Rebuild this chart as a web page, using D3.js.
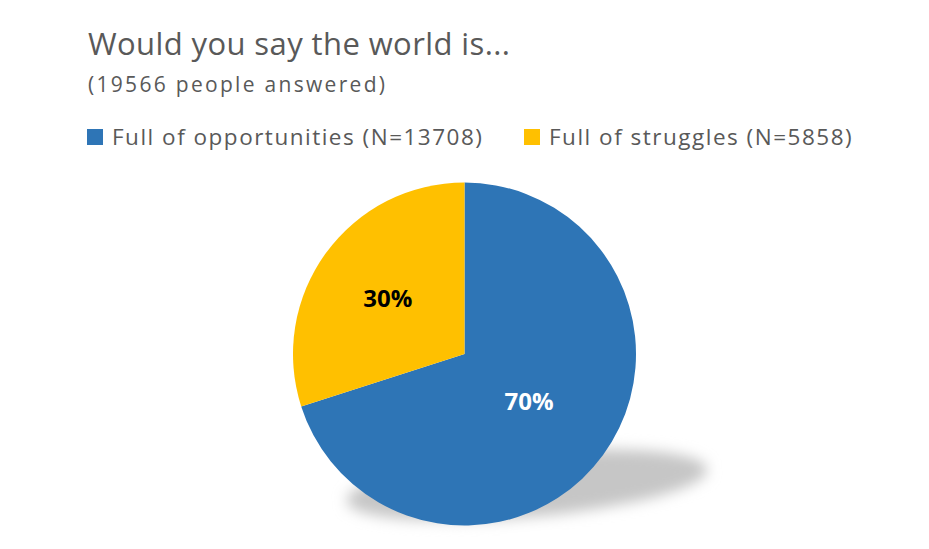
<!DOCTYPE html>
<html>
<head>
<meta charset="utf-8">
<script src="https://cdn.jsdelivr.net/npm/d3@7"></script>
<style>
  body { margin: 0; background: #fff; }
  text { font-family: "Open Sans", Lato, sans-serif; }
</style>
</head>
<body>
<svg id="chart" width="929" height="549"></svg>
<script>
// chart data
const categories = ["Full of opportunities", "Full of struggles"];
const counts = [13708, 5858];
const colors = ["#2e75b6", "#ffc000"];
const titleText = "Would you say the world is...";
const subtitleText = "(19566 people answered)";

const svg = d3.select("#chart");
const total = d3.sum(counts);

// title
svg.append("text")
  .attr("x", 88).attr("y", 55)
  .attr("fill", "#595959")
  .style("font-size", "31px")
  .style("letter-spacing", "0.4px")
  .text(titleText);

svg.append("text")
  .attr("x", 88).attr("y", 92)
  .attr("fill", "#595959")
  .style("font-size", "21px")
  .style("letter-spacing", "2.3px")
  .text(subtitleText);

// legend
const legendX = [87, 524];
const legend = svg.selectAll(".legend")
  .data(categories)
  .enter().append("g")
  .attr("class", "legend")
  .attr("transform", (d, i) => `translate(${legendX[i]}, 129)`);

legend.append("rect")
  .attr("width", 16).attr("height", 16)
  .attr("fill", (d, i) => colors[i]);

legend.append("text")
  .attr("x", 25).attr("y", 16)
  .attr("fill", "#595959")
  .style("font-size", "22.5px")
  .style("letter-spacing", "1.5px")
  .text((d, i) => `${d} (N=${counts[i]})`);

// pie
const cx = 464.5, cy = 354, radius = 171.5;

const defs = svg.append("defs");
defs.append("filter")
  .attr("id", "blur")
  .attr("x", "-20%").attr("y", "-60%")
  .attr("width", "140%").attr("height", "220%")
  .append("feGaussianBlur")
  .attr("stdDeviation", 7);

// perspective shadow
svg.append("ellipse")
  .attr("cx", 527).attr("cy", 485)
  .attr("rx", 181).attr("ry", 32)
  .attr("transform", "rotate(-5, 527, 485)")
  .attr("fill", "#c6c6c6")
  .attr("filter", "url(#blur)");

const pie = d3.pie().sort(null).value(d => d);
const arc = d3.arc().innerRadius(0).outerRadius(radius);

const g = svg.append("g").attr("transform", `translate(${cx}, ${cy})`);
const slices = pie(counts);

g.selectAll("path")
  .data(slices)
  .enter().append("path")
  .attr("d", arc)
  .attr("fill", (d, i) => colors[i]);

// percentage labels
const labelR = [80, 95];
const labelColor = ["#ffffff", "#000000"];
g.selectAll(".label")
  .data(slices)
  .enter().append("text")
  .attr("class", "label")
  .attr("transform", (d, i) => {
    const c = d3.arc().innerRadius(labelR[i]).outerRadius(labelR[i]).centroid(d);
    return `translate(${c[0]}, ${c[1]})`;
  })
  .attr("text-anchor", "middle")
  .attr("dy", "0.36em")
  .attr("fill", (d, i) => labelColor[i])
  .style("font-size", "24px")
  .style("font-weight", "bold")
  .text(d => Math.round(d.data / total * 100) + "%");
</script>
</body>
</html>
